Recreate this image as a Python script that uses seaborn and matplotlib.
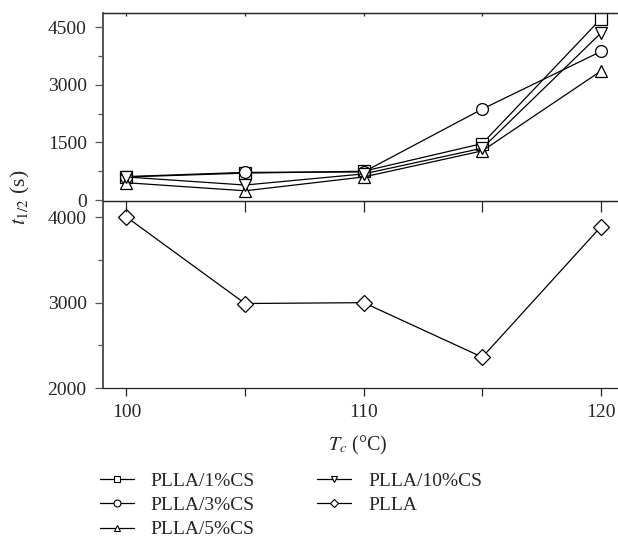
import matplotlib
matplotlib.use("Agg")
import matplotlib.pyplot as plt
import seaborn as sns
import pandas as pd
from matplotlib.ticker import MultipleLocator
from matplotlib.lines import Line2D

# Data
tc = [100, 105, 110, 115, 120]
pla_1cs = [600, 700, 750, 1470, 4720]
pla_3cs = [610, 720, 730, 2370, 3870]
pla_5cs = [450, 240, 600, 1280, 3360]
pla_10cs = [600, 390, 680, 1350, 4350]
plla = [4000, 2990, 3000, 2363, 3887]

series_top = ["PLLA/1%CS", "PLLA/3%CS", "PLLA/5%CS", "PLLA/10%CS"]
values_top = [pla_1cs, pla_3cs, pla_5cs, pla_10cs]
markers_top = ["s", "o", "^", "v"]
xtick_labels = ["100", "", "110", "", "120"]
legend_labels = ["PLLA/1%CS", "PLLA/3%CS", "PLLA/5%CS", "PLLA/10%CS", "PLLA"]
legend_markers = ["s", "o", "^", "v", "D"]

sns.set_style("ticks")
plt.rcParams["font.family"] = ["Liberation Serif", "DejaVu Serif"]
plt.rcParams["mathtext.fontset"] = "stix"
plt.rcParams["font.size"] = 14

fig = plt.figure(figsize=(6.18, 5.43), dpi=100)
L, R = 102.7 / 618, 1.0
ax1 = fig.add_axes([L, 1 - 201 / 543, R - L, (201 - 13) / 543])
ax2 = fig.add_axes([L, 1 - 388.3 / 543, R - L, (388.3 - 201) / 543])
for ax in (ax1, ax2):
    ax.patch.set_visible(False)
ax1.set_zorder(3)

rows = []
for name, vals in zip(series_top, values_top):
    for x, v in zip(tc, vals):
        rows.append({"Tc": x, "t": v, "series": name})
df_top = pd.DataFrame(rows)
df_bot = pd.DataFrame({"Tc": tc, "t": plla, "series": "PLLA"})

line_kw = dict(color="black", linewidth=0.9, markersize=8.5,
               markerfacecolor="white", markeredgecolor="black", markeredgewidth=0.9)

for name, m in zip(series_top, markers_top):
    sns.lineplot(data=df_top[df_top.series == name], x="Tc", y="t", ax=ax1,
                 marker=m, legend=False, **line_kw)
sns.lineplot(data=df_bot, x="Tc", y="t", ax=ax2, marker="D", legend=False,
             color="black", linewidth=0.9, markersize=8, markerfacecolor="white",
             markeredgecolor="black", markeredgewidth=0.9)

for ax in (ax1, ax2):
    ax.set_xlim(99, 120.72)
    ax.set_xlabel("")
    ax.set_ylabel("")
    ax.set_xticks(tc)
    ax.spines["right"].set_visible(False)
    ax.spines["left"].set_color("#555555")
    ax.spines["left"].set_linewidth(1.4)
    for s in ("top", "bottom"):
        ax.spines[s].set_linewidth(0.9)
    ax.tick_params(axis="y", which="major", direction="out", length=5.5, width=0.9,
                   color="#555555", pad=6, labelsize=14)
    ax.tick_params(axis="y", which="minor", direction="out", length=3.5, width=0.9,
                   color="#555555")

ax1.set_ylim(-26, 4872)
ax1.yaxis.set_major_locator(MultipleLocator(1500))
ax1.yaxis.set_minor_locator(MultipleLocator(750))
# ticks hanging from the shared line into the lower panel
ax1.tick_params(axis="x", which="both", bottom=True, top=False, labelbottom=False,
                direction="out", length=8, width=0.9)
sec1 = ax1.secondary_xaxis("top")
sec1.set_xticks(tc)
sec1.tick_params(axis="x", direction="in", length=2, width=0.9, labeltop=False)
sec1.spines["top"].set_linewidth(0.9)

ax2.set_ylim(2000, 4187)
ax2.yaxis.set_major_locator(MultipleLocator(1000))
ax2.yaxis.set_minor_locator(MultipleLocator(500))
ax2.set_xticklabels(xtick_labels)
ax2.tick_params(axis="x", which="major", bottom=True, top=False, direction="out",
                length=5.5, width=0.9, labelsize=14, pad=6)

fig.text(0.5 * (L + R) - 0.005, 1 - 445 / 543, r"$T_c$ (°C)", ha="center", va="center",
         fontsize=14.5)
fig.text(20 / 618, 1 - 197 / 543, r"$t_{1/2}$ (s)", ha="center", va="center",
         rotation=90, fontsize=15.5)

handles = [Line2D([], [], color="black", linewidth=0.9, marker=m,
                  markersize=5 if m != "D" else 4.5,
                  markerfacecolor="white", markeredgecolor="black", markeredgewidth=0.8)
           for m in legend_markers]
fig.legend(handles, legend_labels, ncol=2, loc="upper left",
           bbox_to_anchor=(100 / 618, 1 - 472 / 543), frameon=False,
           fontsize=14, handlelength=1.75, handletextpad=0.86, columnspacing=3.2,
           labelspacing=0.35, borderpad=0, borderaxespad=0)

fig.savefig("out.png", dpi=100)
